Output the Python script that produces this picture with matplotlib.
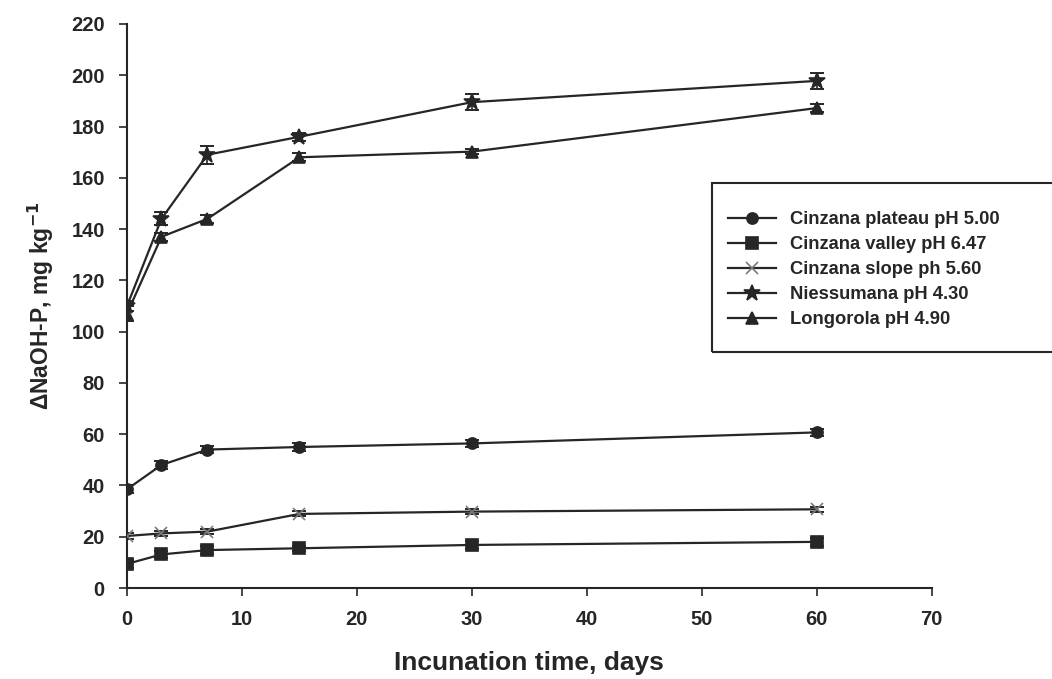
import matplotlib
matplotlib.use("Agg")
import matplotlib.pyplot as plt
from matplotlib.patches import Rectangle
import numpy as np

plt.rcParams['font.family'] = ['Liberation Sans', 'DejaVu Sans']
plt.rcParams['font.weight'] = 'bold'

days = [0, 3, 7, 15, 30, 60]

plateau = [38.5, 48, 54, 55, 56.4, 60.7]
plateau_err = [1.5, 1.5, 1.5, 1.5, 1.5, 1.5]
valley = [9.4, 13.1, 14.8, 15.5, 16.8, 18]
valley_err = [1.5, 1.5, 1.5, 1.0, 1.5, 1.5]
slope = [20.3, 21.3, 22, 28.9, 29.8, 30.7]
slope_err = [1.0, 1.0, 1.0, 1.0, 1.0, 1.0]
niessumana = [110, 144, 169, 176, 189.5, 197.8]
niessumana_err = [2, 2.5, 3.5, 1.5, 3, 3]
longorola = [107, 137, 144, 168, 170.2, 187.2]
longorola_err = [3, 1.5, 1.5, 1.5, 1.0, 1.5]

labels = ['Cinzana plateau pH 5.00', 'Cinzana valley pH 6.47',
          'Cinzana slope ph 5.60', 'Niessumana pH 4.30', 'Longorola pH 4.90']

fig = plt.figure(figsize=(10.52, 6.79), dpi=100)
ax = fig.add_axes([0.1207, 0.134, 0.765, 0.8307])

series = [
    (plateau, plateau_err, 'o', 8, '#262626'),
    (valley, valley_err, 's', 8, '#262626'),
    (slope, slope_err, 'x', 8, '#7a7a7a'),
    (niessumana, niessumana_err, '*', 12, '#262626'),
    (longorola, longorola_err, '^', 9, '#262626'),
]

handles = []
for (vals, err, mk, ms, mc), lab in zip(series, labels):
    ax.errorbar(days, vals, yerr=err, fmt='none', ecolor='#262626',
                elinewidth=1.2, capsize=5, capthick=1.4, zorder=2)
    h, = ax.plot(days, vals, color='#262626', lw=1.6, marker=mk,
                 markersize=ms, markerfacecolor=mc, markeredgecolor=mc,
                 markeredgewidth=1.2, label=lab, zorder=3)
    handles.append(h)

ax.set_xlim(0, 70)
ax.set_ylim(0, 220)
ax.set_xticks(np.arange(0, 71, 10))
ax.set_yticks(np.arange(0, 221, 20))
ax.spines['top'].set_visible(False)
ax.spines['right'].set_visible(False)
for sp in ('left', 'bottom'):
    ax.spines[sp].set_linewidth(1.5)
    ax.spines[sp].set_color('#262626')
ax.tick_params(axis='both', direction='out', length=6, width=1.2,
               labelsize=14.5, colors='#262626', pad=10)
for t in ax.get_xticklabels() + ax.get_yticklabels():
    t.set_fontweight('bold')

ax.set_xlabel('Incunation time, days', fontsize=19, fontweight='bold',
              color='#262626', labelpad=16)
ax.set_ylabel(r'ΔNaOH-P, mg kg$^{\mathbf{-1}}$', fontsize=16.5,
              fontweight='bold', color='#262626', labelpad=11)

# legend entries without frame, box drawn separately so it runs off the right edge
leg = fig.legend(handles=handles, loc='upper left',
                 bbox_to_anchor=(0.692, 0.689), frameon=False,
                 fontsize=13.2, handlelength=2.6, borderpad=0,
                 labelspacing=0.44, borderaxespad=0)
for t in leg.get_texts():
    t.set_fontweight('bold')
    t.set_color('#262626')

fig.patches.append(Rectangle((712 / 1052, 1 - 352 / 679), 360 / 1052, 169 / 679,
                             transform=fig.transFigure, fill=False,
                             lw=1.5, ec='#262626'))

fig.savefig('out.png', dpi=100)
